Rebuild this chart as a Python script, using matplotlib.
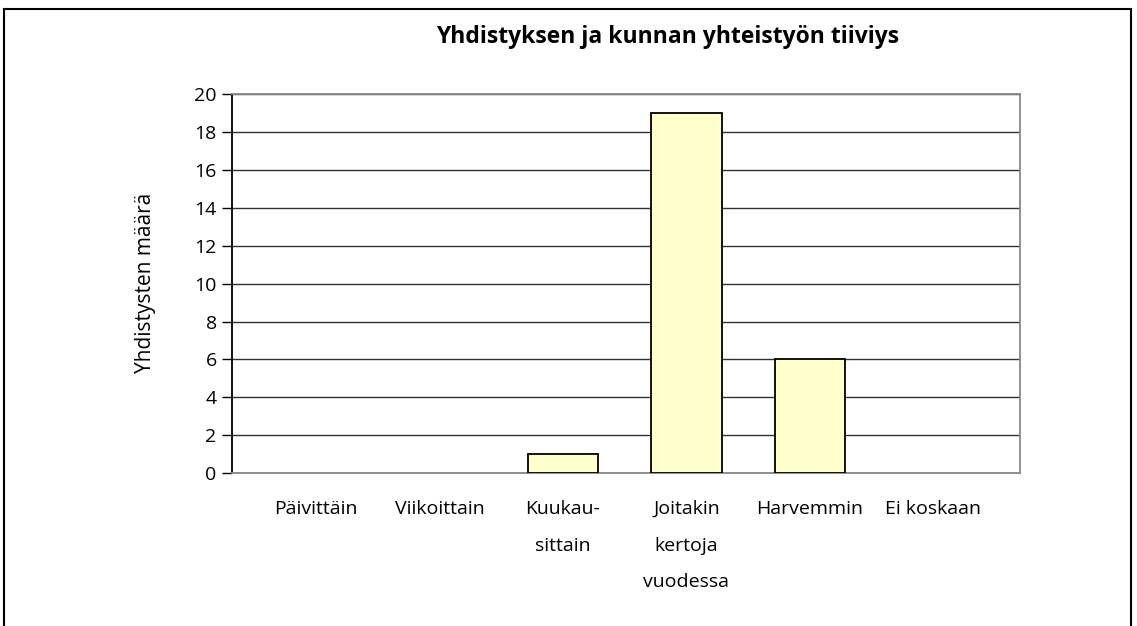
import matplotlib.pyplot as plt
from matplotlib.patches import Rectangle

categories = ['Päivittäin', 'Viikoittain', 'Kuukau-\nsittain', 'Joitakin\nkertoja\nvuodessa', 'Harvemmin', 'Ei koskaan']
counts = [0, 0, 1, 19, 6, 0]
yticks = [0, 2, 4, 6, 8, 10, 12, 14, 16, 18, 20]

plt.rcParams['font.family'] = ['Open Sans', 'DejaVu Sans']

fig = plt.figure(figsize=(11.37, 6.26), dpi=100)
fig.patches.append(Rectangle((4/1137, -0.05), 1127/1137, 1 - 9/626 + 0.05,
                             transform=fig.transFigure, fill=False,
                             edgecolor='black', linewidth=1.5))

ax = fig.add_axes([0.204, 0.244, 0.693, 0.606])
x = list(range(len(categories)))
# empty categories get no outline
lw = [1.3 if c > 0 else 0 for c in counts]
ax.bar(x, counts, width=0.57, color='#ffffcc', edgecolor='black', linewidth=lw, zorder=3)

ax.set_xlim(-0.68, 5.70)
ax.set_ylim(0, 20)
ax.set_yticks(yticks)
ax.set_yticklabels([str(v) for v in yticks], fontsize=14)
ax.yaxis.grid(True, color='#333333', linewidth=1)
ax.set_axisbelow(True)
ax.tick_params(axis='y', direction='out', length=7, width=1, pad=4)
ax.tick_params(axis='x', length=0, pad=19)
ax.set_xticks(x)
ax.set_xticklabels(categories, fontsize=14, linespacing=2.35, va='top')

for side in ['top', 'right', 'bottom']:
    ax.spines[side].set_color('#888888')
    ax.spines[side].set_linewidth(1.3)
ax.spines['left'].set_color('black')
ax.spines['left'].set_linewidth(1.3)

fig.text(0.587, 0.941, 'Yhdistyksen ja kunnan yhteistyön tiiviys', ha='center', va='center',
         fontsize=16.5, fontweight='bold')
fig.text(0.128, 0.548, 'Yhdistysten määrä', rotation=90, ha='center', va='center', fontsize=15)

fig.savefig('out.png', dpi=100)
